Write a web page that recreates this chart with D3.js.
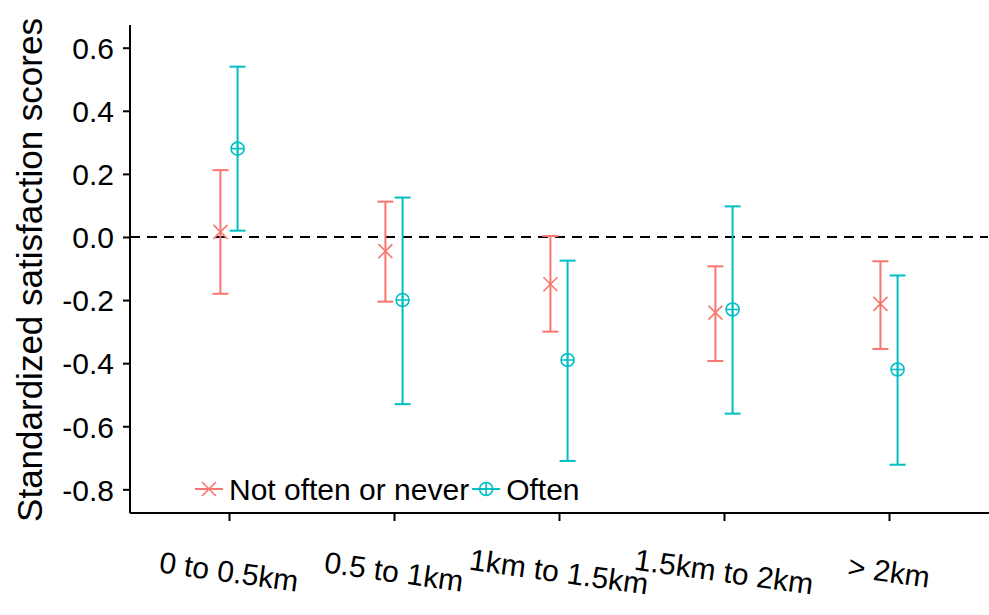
<!DOCTYPE html>
<html>
<head>
<meta charset="utf-8">
<script src="https://cdn.jsdelivr.net/npm/d3@7"></script>
<style>
  body { margin: 0; background: #fff; }
  svg { display: block; font-family: "Liberation Sans", Arial, sans-serif; }
</style>
</head>
<body>
<div id="chart"></div>
<script>
var categories = ["0 to 0.5km", "0.5 to 1km", "1km to 1.5km", "1.5km to 2km", "> 2km"];
var groups = ["Not often or never", "Often"];
var colors = ["#F8766D", "#00BFC4"];

// estimate, lower, upper per category
var notOftenMean = [0.016, -0.045, -0.150, -0.240, -0.212];
var notOftenLow  = [-0.180, -0.205, -0.300, -0.393, -0.355];
var notOftenHigh = [0.212, 0.112, 0.003, -0.093, -0.077];

var oftenMean = [0.280, -0.200, -0.390, -0.230, -0.420];
var oftenLow  = [0.020, -0.530, -0.710, -0.560, -0.722];
var oftenHigh = [0.540, 0.125, -0.075, 0.097, -0.122];

var yTicks = [0.6, 0.4, 0.2, 0.0, -0.2, -0.4, -0.6, -0.8];

var width = 989, height = 615;
var margin = { top: 25, right: 0, bottom: 102, left: 130 };

var svg = d3.select("#chart")
  .append("svg")
    .attr("width", width)
    .attr("height", height);

// ggplot-style discrete expansion of 0.6 on each side
var x = d3.scaleLinear()
    .domain([0.4, categories.length + 0.6])
    .range([margin.left, width - margin.right - 1]);

var y = d3.scaleLinear()
    .domain([-0.875, 0.672])
    .range([height - margin.bottom, margin.top]);

var dodge = 0.052;

var series = [
  { name: groups[0], color: colors[0], mean: notOftenMean, low: notOftenLow, high: notOftenHigh, off: -dodge, shape: "cross" },
  { name: groups[1], color: colors[1], mean: oftenMean, low: oftenLow, high: oftenHigh, off: dodge, shape: "circleplus" }
];

// zero reference line
svg.append("line")
    .attr("x1", x(0.4)).attr("x2", x(categories.length + 0.6))
    .attr("y1", y(0)).attr("y2", y(0))
    .attr("stroke", "#000")
    .attr("stroke-width", 2)
    .attr("stroke-dasharray", "10,7");

function drawShape(g, shape, cx, cy, color) {
  if (shape === "cross") {
    var s = 7;
    g.append("path")
        .attr("d", "M" + (cx - s) + "," + (cy - s) + "L" + (cx + s) + "," + (cy + s) +
                   "M" + (cx - s) + "," + (cy + s) + "L" + (cx + s) + "," + (cy - s))
        .attr("stroke", color).attr("stroke-width", 1.6).attr("fill", "none");
  } else {
    var r = 6.5;
    g.append("circle").attr("cx", cx).attr("cy", cy).attr("r", r)
        .attr("stroke", color).attr("stroke-width", 1.6).attr("fill", "none");
    g.append("path")
        .attr("d", "M" + (cx - r) + "," + cy + "L" + (cx + r) + "," + cy +
                   "M" + cx + "," + (cy - r) + "L" + cx + "," + (cy + r))
        .attr("stroke", color).attr("stroke-width", 1.6).attr("fill", "none");
  }
}

var capHalf = 8;
series.forEach(function(s) {
  var g = svg.append("g");
  categories.forEach(function(c, i) {
    var cx = x(i + 1 + s.off);
    g.append("line")
        .attr("x1", cx).attr("x2", cx)
        .attr("y1", y(s.low[i])).attr("y2", y(s.high[i]))
        .attr("stroke", s.color).attr("stroke-width", 2);
    [s.low[i], s.high[i]].forEach(function(v) {
      g.append("line")
          .attr("x1", cx - capHalf).attr("x2", cx + capHalf)
          .attr("y1", y(v)).attr("y2", y(v))
          .attr("stroke", s.color).attr("stroke-width", 2);
    });
    drawShape(g, s.shape, cx, y(s.mean[i]), s.color);
  });
});

// y axis
var yAxis = svg.append("g")
    .attr("transform", "translate(" + margin.left + ",0)")
    .call(d3.axisLeft(y).tickValues(yTicks).tickSize(7).tickPadding(9)
      .tickFormat(function(d) { return d === 0 ? "0.0" : d3.format(".1f")(d).replace("−", "-"); }));
yAxis.select(".domain").attr("stroke-width", 2).attr("d", "M0," + margin.top + "V" + (height - margin.bottom));
yAxis.selectAll(".tick line").attr("stroke-width", 2);
yAxis.selectAll("text").attr("font-size", 30).attr("fill", "#000").attr("dy", "0.36em");

// x axis
var xAxis = svg.append("g")
    .attr("transform", "translate(0," + (height - margin.bottom) + ")")
    .call(d3.axisBottom(x).tickValues(d3.range(1, categories.length + 1)).tickSize(8)
      .tickFormat(function(d) { return categories[d - 1]; }));
xAxis.select(".domain").attr("stroke-width", 2).attr("d", "M" + margin.left + ",0H" + width);
xAxis.selectAll(".tick line").attr("stroke-width", 2);
xAxis.selectAll("text")
    .attr("font-size", 30)
    .attr("fill", "#000")
    .attr("y", 0).attr("dy", 0)
    .attr("text-anchor", "middle")
    .attr("transform", "translate(-2,69) rotate(8)");

// y title
svg.append("text")
    .attr("transform", "translate(42,270) rotate(-90)")
    .attr("text-anchor", "middle")
    .attr("font-size", 35)
    .text("Standardized satisfaction scores");

// legend
var legend = svg.append("g").attr("transform", "translate(195,489)");
var lx = 0;
series.forEach(function(s) {
  var lg = legend.append("g").attr("transform", "translate(" + lx + ",0)");
  lg.append("line").attr("x1", 0).attr("x2", 28).attr("y1", 0).attr("y2", 0)
      .attr("stroke", s.color).attr("stroke-width", 2);
  drawShape(lg, s.shape, 14, 0, s.color);
  var t = lg.append("text").attr("x", 34).attr("y", 0).attr("dy", "0.36em")
      .attr("font-size", 30).text(s.name);
  lx += 34 + t.node().getComputedTextLength() + 3;
});
</script>
</body>
</html>
